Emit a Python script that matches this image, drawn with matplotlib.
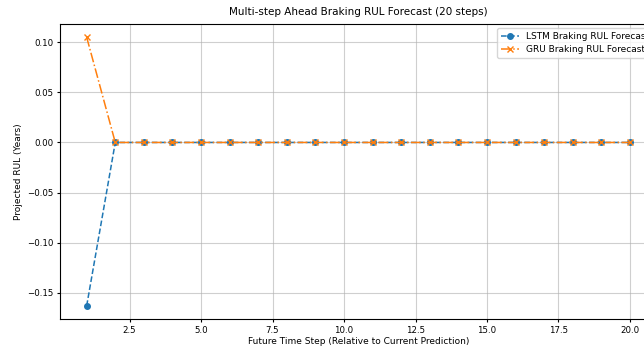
import numpy as np
import matplotlib
matplotlib.use("Agg")
import matplotlib.pyplot as plt

# forecast horizon and predictions
steps = list(range(1, 21))
lstm_rul = [-0.163] + [0.0] * 19
gru_rul = [0.105] + [0.0] * 19

fig = plt.figure(figsize=(6.44, 3.49), dpi=100)
# the reference is cropped on the right, so the axes run past the figure edge
ax = fig.add_axes([0.0924, 0.085, 0.928, 0.847])

ax.plot(steps, lstm_rul, linestyle="--", marker="o", markersize=4,
        linewidth=1.1, label="LSTM Braking RUL Forecast")
ax.plot(steps, gru_rul, linestyle="-.", marker="x", markersize=4.5,
        linewidth=1.1, label="GRU Braking RUL Forecast")

ax.set_title("Multi-step Ahead Braking RUL Forecast (20 steps)", fontsize=7.5)
ax.set_xlabel("Future Time Step (Relative to Current Prediction)", fontsize=6.5, labelpad=2)
ax.set_ylabel("Projected RUL (Years)", fontsize=6.5, labelpad=3)
ax.tick_params(labelsize=6.2, length=2.5, pad=2)
ax.grid(True, alpha=0.6)
ax.legend(loc="upper right", fontsize=6.5)

plt.savefig("out.png", dpi=100)
